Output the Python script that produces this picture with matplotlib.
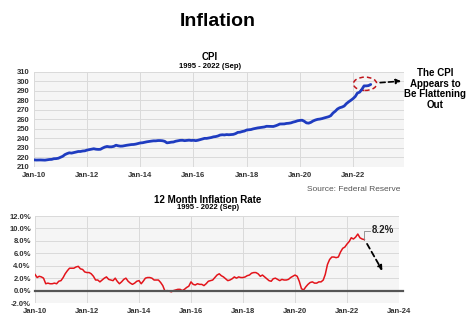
import matplotlib
matplotlib.use("Agg")
import matplotlib.pyplot as plt
import matplotlib.dates as mdates
from matplotlib.patches import Ellipse
import pandas as pd

plt.rcParams["font.family"] = ["Liberation Sans", "DejaVu Sans"]

# Monthly CPI-U index, Jan 2010 - Sep 2022
cpi = [
    217.5, 217.3, 217.4, 217.4, 217.3, 217.2, 217.6, 217.9, 218.0, 218.7, 218.8, 219.2,
    220.2, 221.3, 223.0, 224.1, 224.9, 224.6, 225.1, 225.7, 226.3, 226.3, 226.8, 227.0,
    227.8, 228.3, 228.8, 229.2, 228.7, 228.5, 228.6, 229.9, 231.0, 231.6, 231.2, 231.2,
    231.7, 232.9, 232.3, 231.9, 232.0, 232.5, 232.9, 233.3, 233.6, 233.7, 234.1, 234.7,
    235.3, 235.5, 236.0, 236.5, 236.9, 237.2, 237.5, 237.5, 237.8, 237.8, 237.6, 237.0,
    235.4, 235.7, 236.1, 236.3, 237.1, 237.6, 238.0, 238.1, 237.7, 238.0, 238.2, 237.9,
    238.1, 237.7, 238.1, 238.8, 239.4, 240.1, 240.1, 240.5, 241.0, 241.7, 242.0, 242.6,
    243.6, 243.9, 243.7, 244.1, 243.9, 244.1, 244.3, 245.1, 246.4, 246.6, 247.3, 247.8,
    248.9, 249.2, 249.4, 250.1, 250.6, 251.1, 251.4, 251.7, 252.1, 252.8, 252.7, 252.7,
    252.6, 253.3, 254.1, 255.2, 255.2, 255.3, 255.8, 256.0, 256.4, 257.2, 257.8, 258.6,
    259.0, 259.2, 258.1, 256.4, 256.1, 257.0, 258.4, 259.4, 260.1, 260.4, 260.9, 261.6,
    262.2, 262.9, 264.0, 266.8, 268.6, 271.0, 272.3, 273.0, 274.1, 276.6, 278.5, 280.1,
    281.9, 284.2, 287.7, 288.7, 291.5, 295.3, 295.3, 295.6, 296.8,
]

# 12-month change in CPI (%), Jan 2010 - Sep 2022
inflation = [
    2.6, 2.1, 2.3, 2.2, 2.0, 1.1, 1.2, 1.1, 1.1, 1.2, 1.1, 1.5,
    1.6, 2.1, 2.7, 3.2, 3.6, 3.6, 3.6, 3.8, 3.9, 3.5, 3.4, 3.0,
    2.9, 2.9, 2.7, 2.3, 1.7, 1.7, 1.4, 1.7, 2.0, 2.2, 1.8, 1.7,
    1.6, 2.0, 1.5, 1.1, 1.4, 1.8, 2.0, 1.5, 1.2, 1.0, 1.2, 1.5,
    1.6, 1.1, 1.5, 2.0, 2.1, 2.1, 2.0, 1.7, 1.7, 1.7, 1.3, 0.8,
    -0.1, 0.0, -0.1, -0.2, 0.0, 0.1, 0.2, 0.2, 0.0, 0.2, 0.5, 0.7,
    1.4, 1.0, 0.9, 1.1, 1.0, 1.0, 0.8, 1.1, 1.5, 1.6, 1.7, 2.1,
    2.5, 2.7, 2.4, 2.2, 1.9, 1.6, 1.7, 1.9, 2.2, 2.0, 2.2, 2.1,
    2.1, 2.2, 2.4, 2.5, 2.8, 2.9, 2.9, 2.7, 2.3, 2.5, 2.2, 1.9,
    1.6, 1.5, 1.9, 2.0, 1.8, 1.6, 1.8, 1.7, 1.7, 1.8, 2.1, 2.3,
    2.5, 2.3, 1.5, 0.3, 0.1, 0.6, 1.0, 1.3, 1.4, 1.2, 1.2, 1.4,
    1.4, 1.7, 2.6, 4.2, 5.0, 5.4, 5.4, 5.3, 5.4, 6.2, 6.8, 7.0,
    7.5, 7.9, 8.5, 8.3, 8.6, 9.1, 8.5, 8.3, 8.2,
]

months = pd.date_range("2010-01-01", periods=len(cpi), freq="MS")

top_ticks = ["Jan-10", "Jan-12", "Jan-14", "Jan-16", "Jan-18", "Jan-20", "Jan-22"]
bottom_ticks = top_ticks + ["Jan-24"]
cpi_ticks = list(range(210, 311, 10))
rate_ticks = [-2, 0, 2, 4, 6, 8, 10, 12]

BLUE = "#1f3cc0"
RED = "#e3141b"
BG = "#f5f5f5"
GRID = "#dadada"
TICK = "#333333"


def d(s):
    return mdates.date2num(pd.Timestamp(s))


def tick_dates(labels):
    return [d("20" + lab[-2:] + "-01-01") for lab in labels]


def style(ax, xlabels, yticks, yfmt):
    ax.set_facecolor(BG)
    for sp in ax.spines.values():
        sp.set_visible(False)
    ax.set_xticks(tick_dates(xlabels))
    ax.set_xticklabels(xlabels)
    ax.set_yticks(yticks)
    ax.set_yticklabels([yfmt(v) for v in yticks])
    ax.tick_params(length=0, labelsize=5.5, colors=TICK)
    ax.tick_params(axis="x", pad=3.5)
    ax.tick_params(axis="y", pad=3)
    for lab in ax.get_xticklabels() + ax.get_yticklabels():
        lab.set_fontweight("bold")
    ax.grid(True, color=GRID, linewidth=0.7)
    ax.set_axisbelow(True)


fig = plt.figure(figsize=(4.74, 3.36), dpi=100)

fig.text(0.46, 0.935, "Inflation", ha="center", va="center",
         fontsize=14, fontweight="bold")

# --- CPI level ---
ax1 = fig.add_axes([0.0717, 0.503, 0.7805, 0.283])
ax1.plot(months, cpi, color=BLUE, linewidth=2.0, solid_capstyle="round")
ax1.set_xlim(d("2010-01-01"), d("2023-12-01"))
ax1.set_ylim(210, 310)
style(ax1, top_ticks, cpi_ticks, lambda v: f"{v}")

fig.text(0.443, 0.830, "CPI", ha="center", va="center",
         fontsize=7, fontweight="bold")
fig.text(0.443, 0.803, "1995 - 2022 (Sep)", ha="center", va="center",
         fontsize=5.5, fontweight="bold")

ax1.add_patch(Ellipse((d("2022-06-15"), 297.5), width=320, height=14,
                      fill=False, edgecolor="#c0141b", linestyle=(0, (3, 2)),
                      linewidth=1.1, clip_on=False))
ax1.annotate("", xy=(d("2023-12-01"), 300.5), xytext=(d("2022-12-01"), 298.5),
             arrowprops=dict(arrowstyle="-|>", color="black", linestyle=(0, (3, 2)),
                             linewidth=1.2, mutation_scale=7),
             annotation_clip=False)
fig.text(0.918, 0.735, "The CPI\nAppears to\nBe Flattening\nOut",
         ha="center", va="center", fontsize=7, fontweight="bold",
         linespacing=1.1)

fig.text(0.845, 0.435, "Source: Federal Reserve", ha="right", va="center",
         fontsize=6, color="#555555")

# --- 12-month inflation rate ---
ax2 = fig.add_axes([0.0738, 0.0982, 0.768, 0.2589])
ax2.plot(months, inflation, color=RED, linewidth=1.1)
ax2.axhline(0, color="#555555", linewidth=1.6, xmax=1.01, clip_on=False)
ax2.set_xlim(d("2010-01-01"), d("2024-01-01"))
ax2.set_ylim(-2, 12)
style(ax2, bottom_ticks, rate_ticks, lambda v: f"{v:.1f}%")

fig.text(0.439, 0.405, "12 Month Inflation Rate", ha="center", va="center",
         fontsize=7, fontweight="bold")
fig.text(0.439, 0.381, "1995 - 2022 (Sep)", ha="center", va="center",
         fontsize=5.5, fontweight="bold")

last_x = months[-1]
last_v = inflation[-1]
ax2.plot([d(last_x), d(last_x), d("2022-11-15")],
         [last_v, last_v + 1.4, last_v + 1.4], color="#888888", linewidth=0.6)
ax2.text(d("2022-12-15"), last_v + 1.5, f"{last_v:.1f}%", ha="left", va="center",
         fontsize=7, fontweight="bold", color="#222222")
ax2.annotate("", xy=(d("2023-06-01"), 2.8), xytext=(d("2022-09-20"), 7.9),
             arrowprops=dict(arrowstyle="-|>", color="black", linestyle=(0, (3, 2)),
                             linewidth=1.3, mutation_scale=7))

fig.savefig("out.png", dpi=100)
